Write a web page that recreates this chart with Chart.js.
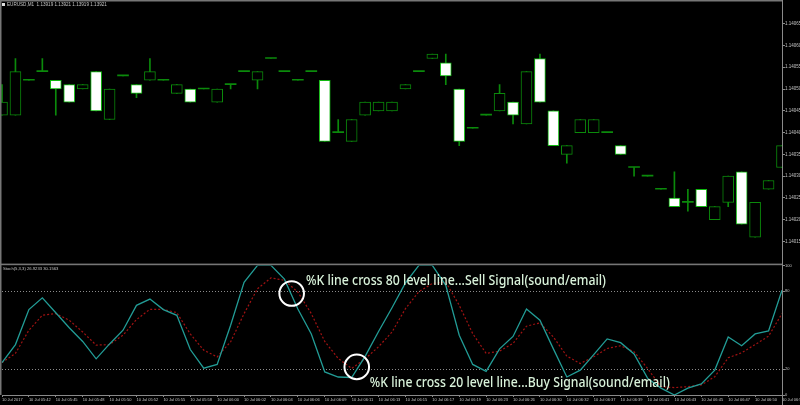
<!DOCTYPE html>
<html>
<head>
<meta charset="utf-8">
<script src="https://cdn.jsdelivr.net/npm/chart.js@4.4.0/dist/chart.umd.min.js"></script>
<style>
    html, body { margin: 0; padding: 0; background: #000; }
    #wrap { position: relative; width: 800px; height: 405px; overflow: hidden; background: #000; }
    #priceChart { position: absolute; left: 0; top: 0; }
    #stochChart { position: absolute; left: 0; top: 263px; }
</style>
</head>
<body>
<div id="wrap">
    <canvas id="priceChart" width="800" height="263"></canvas>
    <canvas id="stochChart" width="800" height="142"></canvas>
</div>
<script>
// EURUSD M1 candles, one tick label every 2 bars
const timeLabels = [
    "10 Jul 2017", "10 Jul 05:42", "10 Jul 05:45", "10 Jul 05:48", "10 Jul 05:50",
    "10 Jul 05:52", "10 Jul 05:55", "10 Jul 05:58", "10 Jul 06:00", "10 Jul 06:02",
    "10 Jul 06:04", "10 Jul 06:06", "10 Jul 06:09", "10 Jul 06:11", "10 Jul 06:13",
    "10 Jul 06:15", "10 Jul 06:17", "10 Jul 06:19", "10 Jul 06:23", "10 Jul 06:26",
    "10 Jul 06:30", "10 Jul 06:32", "10 Jul 06:37", "10 Jul 06:39", "10 Jul 06:41",
    "10 Jul 06:43", "10 Jul 06:45", "10 Jul 06:47", "10 Jul 06:50", "10 Jul 06:52"
];

const opens = [
    1.14044, 1.14044, 1.14052, 1.14054, 1.14052, 1.14051, 1.14050, 1.14054, 1.14043, 1.14053,
    1.14051, 1.14052, 1.14052, 1.14049, 1.14050, 1.14050, 1.14047, 1.14051, 1.14054, 1.14052,
    1.14057, 1.14054, 1.14052, 1.14054, 1.14052, 1.14040, 1.14038, 1.14044, 1.14045, 1.14045,
    1.14050, 1.14054, 1.14057, 1.14056, 1.14050, 1.14041, 1.14044, 1.14045, 1.14047, 1.14042,
    1.14057, 1.14045, 1.14035, 1.14040, 1.14040, 1.14040, 1.14037, 1.14032, 1.14030, 1.14027,
    1.14025, 1.14024, 1.14027, 1.14020, 1.14024, 1.14031, 1.14016, 1.14027, 1.14032
];
const highs = [
    1.14051, 1.14057, 1.14052, 1.14057, 1.14052, 1.14051, 1.14051, 1.14054, 1.14050, 1.14053,
    1.14051, 1.14057, 1.14052, 1.14051, 1.14050, 1.14050, 1.14050, 1.14051, 1.14054, 1.14054,
    1.14057, 1.14054, 1.14052, 1.14054, 1.14052, 1.14043, 1.14043, 1.14047, 1.14047, 1.14047,
    1.14051, 1.14054, 1.14058, 1.14058, 1.14050, 1.14041, 1.14044, 1.14051, 1.14047, 1.14054,
    1.14058, 1.14045, 1.14037, 1.14043, 1.14043, 1.14040, 1.14037, 1.14032, 1.14030, 1.14027,
    1.14031, 1.14027, 1.14027, 1.14023, 1.14030, 1.14031, 1.14024, 1.14029, 1.14037
];
const lows = [
    1.14044, 1.14044, 1.14052, 1.14054, 1.14044, 1.14047, 1.14050, 1.14045, 1.14043, 1.14053,
    1.14048, 1.14052, 1.14052, 1.14049, 1.14047, 1.14050, 1.14047, 1.14050, 1.14054, 1.14050,
    1.14057, 1.14054, 1.14052, 1.14054, 1.14038, 1.14040, 1.14038, 1.14044, 1.14045, 1.14045,
    1.14050, 1.14054, 1.14057, 1.14051, 1.14037, 1.14041, 1.14044, 1.14045, 1.14042, 1.14042,
    1.14047, 1.14037, 1.14033, 1.14040, 1.14040, 1.14040, 1.14035, 1.14030, 1.14030, 1.14027,
    1.14023, 1.14022, 1.14023, 1.14020, 1.14023, 1.14019, 1.14016, 1.14027, 1.14032
];
const closes = [
    1.14047, 1.14054, 1.14052, 1.14054, 1.14050, 1.14047, 1.14051, 1.14045, 1.14050, 1.14053,
    1.14049, 1.14054, 1.14052, 1.14051, 1.14047, 1.14050, 1.14050, 1.14051, 1.14054, 1.14054,
    1.14057, 1.14054, 1.14052, 1.14054, 1.14038, 1.14040, 1.14043, 1.14047, 1.14047, 1.14047,
    1.14051, 1.14054, 1.14058, 1.14053, 1.14038, 1.14041, 1.14044, 1.14049, 1.14044, 1.14054,
    1.14047, 1.14037, 1.14037, 1.14043, 1.14043, 1.14040, 1.14035, 1.14032, 1.14030, 1.14027,
    1.14023, 1.14024, 1.14023, 1.14023, 1.14030, 1.14019, 1.14024, 1.14029, 1.14037
];

// Stochastic(5,3,3): main (%K) and signal (%D)
const stochMain = [
    25.0, 38.9, 65.9, 75.0, 63.5, 51.9, 41.3, 27.9, 39.4, 50.0,
    69.2, 74.0, 65.9, 61.5, 35.1, 20.7, 23.6, 53.8, 87.0, 100,
    100, 89.4, 66.3, 47.1, 17.8, 13.9, 13.5, 29.8, 49.0, 67.3,
    86.5, 100, 100, 84.6, 46.1, 23.6, 18.3, 35.6, 45.2, 66.3,
    57.7, 35.6, 13.9, 19.2, 31.2, 43.3, 40.4, 31.7, 13.0, 5.3,
    0, 5.3, 8.6, 19.2, 44.7, 38.0, 47.1, 49.5, 80.8
];
const stochSignal = [
    25.0, 32.1, 50.0, 61.5, 62.8, 57.7, 48.6, 38.5, 38.9, 46.2,
    58.2, 66.1, 66.1, 63.5, 47.1, 34.6, 29.4, 41.0, 62.8, 82.0,
    90.4, 88.5, 79.4, 62.8, 41.3, 28.2, 20.5, 27.9, 37.2, 48.6,
    66.6, 79.8, 86.0, 87.1, 69.2, 47.4, 32.1, 33.8, 39.8, 53.1,
    55.7, 44.8, 30.0, 24.3, 29.5, 35.9, 38.0, 33.4, 20.5, 6.4,
    5.7, 6.4, 7.7, 14.1, 28.7, 32.6, 38.9, 45.4, 62.8
];

const priceTicks = [1.14015, 1.14020, 1.14025, 1.14030, 1.14035, 1.14040, 1.14045, 1.14050, 1.14055, 1.14060, 1.14065];
const stochLevels = [0, 20, 80, 100];

const chartTitle = "EURUSD,M1  1.13919 1.13921 1.13919 1.13921";
const stochTitle = "Stoch(5,3,3) 26.9233 30.1563";
const sellNote = "%K line cross 80 level line...Sell Signal(sound/email)";
const buyNote = "%K line cross 20 level line...Buy Signal(sound/email)";

const candleLabels = opens.map((_, i) => i % 2 === 0 ? timeLabels[i / 2] : "");

const frameGray = "#767676";
const axisGray = "#8a8a8a";
const labelGray = "#c4c4c4";
const wickGreen = "#0b8a0b";
const tinyFont = { family: "Liberation Sans", size: 4.5 };

function isDoji(i) { return opens[i] === closes[i]; }
function isBear(i) { return closes[i] < opens[i]; }

const pricePanel = {
    id: "pricePanel",
    afterDraw(chart) {
        const ctx = chart.ctx;
        const right = chart.chartArea.right;
        ctx.save();
        ctx.fillStyle = frameGray;
        ctx.fillRect(0, 0, right, 1.5);
        ctx.fillRect(0, 0, 1.5, chart.height);
        ctx.fillStyle = axisGray;
        ctx.fillRect(right, 0, 1, chart.height);
        ctx.fillStyle = "#e0e0e0";
        ctx.fillRect(2, 3, 3, 3);
        ctx.fillStyle = labelGray;
        ctx.font = "4.6px 'Liberation Sans'";
        ctx.textBaseline = "middle";
        ctx.fillText(chartTitle, 7, 4.7);
        ctx.restore();
    }
};

// circles where %K crosses the levels, and the two captions
const stochPanel = {
    id: "stochPanel",
    afterDatasetsDraw(chart) {
        const {ctx, scales: {x, y}} = chart;
        const right = chart.chartArea.right;
        ctx.save();
        ctx.fillStyle = frameGray;
        ctx.fillRect(0, 0.6, right, 1.6);
        ctx.fillRect(0, 0, 1.5, chart.chartArea.bottom);
        ctx.fillStyle = axisGray;
        ctx.fillRect(right, 0, 1, chart.height);

        ctx.fillStyle = labelGray;
        ctx.font = "4.2px 'Liberation Sans'";
        ctx.textBaseline = "middle";
        ctx.fillText(stochTitle, 3, 6);

        ctx.strokeStyle = "#ffffff";
        ctx.lineWidth = 2;
        [[21.54, 78.3], [26.38, 21.7]].forEach(([i, v]) => {
            ctx.beginPath();
            ctx.arc(x.getPixelForValue(i), y.getPixelForValue(v), 12.3, 0, Math.PI * 2);
            ctx.stroke();
        });

        ctx.fillStyle = "#d9f2da";
        ctx.font = "500 13.5px 'Noto Sans'";
        ctx.textBaseline = "middle";
        ctx.fillText(sellNote, x.getPixelForValue(22.6), y.getPixelForValue(87.7), 300);
        ctx.fillText(buyNote, x.getPixelForValue(27.35), y.getPixelForValue(9.3), 300);
        ctx.restore();
    }
};

new Chart(document.getElementById("priceChart"), {
    type: "bar",
    data: {
        labels: candleLabels,
        datasets: [
            {
                label: "body",
                data: opens.map((o, i) => [o, closes[i]]),
                grouped: false,
                barThickness: 11,
                minBarLength: 1,
                borderSkipped: false,
                backgroundColor: (c) => {
                    const i = c.dataIndex;
                    if (i === undefined) return "#000";
                    if (isDoji(i)) return wickGreen;
                    return isBear(i) ? "#ffffff" : "#000000";
                },
                borderColor: (c) => {
                    const i = c.dataIndex;
                    if (i === undefined) return wickGreen;
                    return isBear(i) ? "#10b810" : wickGreen;
                },
                borderWidth: (c) => (c.dataIndex !== undefined && isDoji(c.dataIndex)) ? 0 : 1,
                clip: { left: 6, top: 0, right: 0, bottom: 0 }
            },
            {
                label: "wick",
                data: lows.map((l, i) => [l, highs[i]]),
                grouped: false,
                barThickness: 1,
                backgroundColor: wickGreen,
                borderWidth: 0,
                clip: { left: 6, top: 0, right: 0, bottom: 0 }
            }
        ]
    },
    options: {
        responsive: false,
        animation: false,
        layout: { padding: { left: 2, top: 2, right: 0, bottom: 1 } },
        plugins: { legend: { display: false }, tooltip: { enabled: false } },
        scales: {
            x: { display: false, offset: false, grid: { offset: false } },
            y: {
                position: "right",
                min: 1.140107,
                max: 1.140698,
                beginAtZero: false,
                afterBuildTicks: (s) => { s.ticks = priceTicks.map(v => ({ value: v })); },
                afterFit: (s) => { s.width = 18; },
                ticks: { color: labelGray, font: tinyFont, padding: 0, callback: (v) => v.toFixed(5) },
                grid: { drawOnChartArea: false, tickLength: 3, color: axisGray },
                border: { display: true, color: axisGray }
            }
        }
    },
    plugins: [pricePanel]
});

new Chart(document.getElementById("stochChart"), {
    type: "line",
    data: {
        labels: candleLabels,
        datasets: [
            {
                label: "main",
                data: stochMain,
                borderColor: "#229c96",
                borderWidth: 1.3,
                pointRadius: 0,
                tension: 0
            },
            {
                label: "signal",
                data: stochSignal,
                borderColor: "#a01212",
                borderWidth: 1.2,
                borderDash: [2, 2],
                pointRadius: 0,
                tension: 0
            }
        ]
    },
    options: {
        responsive: false,
        animation: false,
        layout: { padding: { left: 2, top: 2, right: 0, bottom: 0 } },
        plugins: { legend: { display: false }, tooltip: { enabled: false } },
        scales: {
            x: {
                offset: false,
                afterFit: (s) => { s.height = 10; s.paddingLeft = 0; s.paddingRight = 0; },
                ticks: {
                    autoSkip: false, maxRotation: 0, minRotation: 0, align: "start",
                    color: labelGray, font: { family: "Liberation Sans", size: 4 }, padding: 0
                },
                grid: {
                    offset: false,
                    drawOnChartArea: false,
                    tickLength: 2,
                    tickColor: (c) => c.index % 2 === 0 ? axisGray : "transparent"
                },
                border: { display: true, color: axisGray }
            },
            y: {
                position: "right",
                min: 0,
                max: 100,
                afterBuildTicks: (s) => { s.ticks = stochLevels.map(v => ({ value: v })); },
                afterFit: (s) => { s.width = 18; },
                ticks: { color: labelGray, font: { family: "Liberation Sans", size: 4 }, padding: 0 },
                grid: {
                    color: (c) => (c.tick && (c.tick.value === 20 || c.tick.value === 80)) ? "#8a8a8a" : "transparent",
                    tickColor: axisGray,
                    tickLength: 3
                },
                border: { display: true, color: axisGray, dash: [1, 2] }
            }
        }
    },
    plugins: [stochPanel]
});
</script>
</body>
</html>
